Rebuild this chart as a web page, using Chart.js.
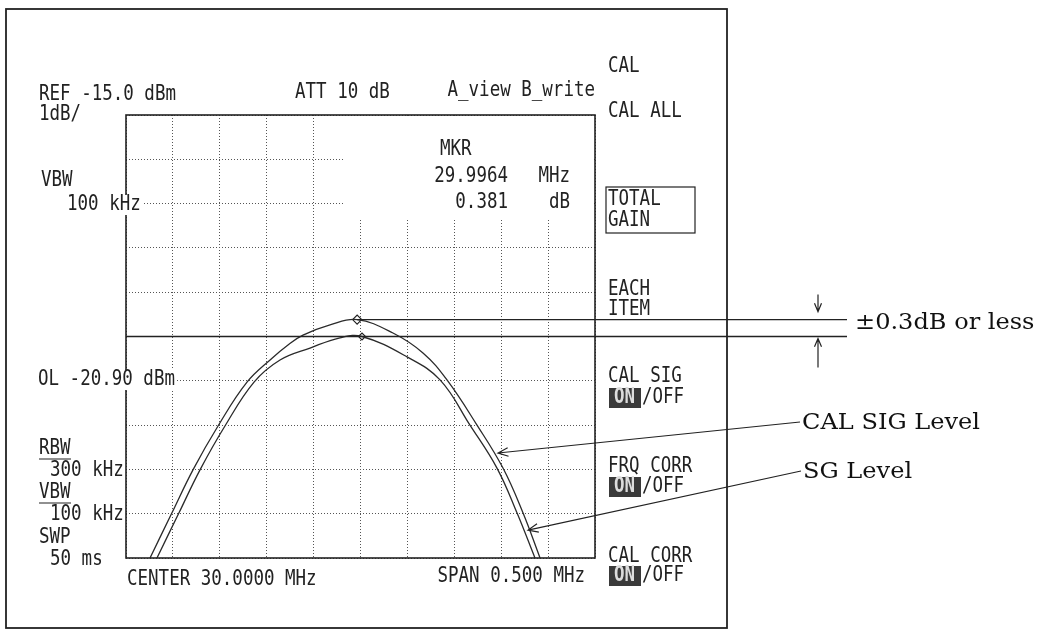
<!DOCTYPE html>
<html>
<head>
<meta charset="utf-8">
<script src="https://cdn.jsdelivr.net/npm/chart.js@4.4.1/dist/chart.umd.min.js"></script>
<style>
  body { margin: 0; background: #fff; }
  canvas { display: block; }
</style>
</head>
<body>
<canvas id="myChart" width="1045" height="631"></canvas>
<script>
// grid: center 30 MHz, span 0.5 MHz, ref -15 dBm, 1 dB/div
const xTicks = [29.75, 29.80, 29.85, 29.90, 29.95, 30.00, 30.05, 30.10, 30.15, 30.20, 30.25];
const yTicks = [-25, -24, -23, -22, -21, -20, -19, -18, -17, -16, -15];

// outer trace (CAL SIG level)
const calSigFreq  = [29.7756, 29.7990, 29.8214, 29.8481, 29.8790, 29.9057, 29.9227, 29.9387, 29.9675, 29.9964, 30.0346, 30.0666, 30.0922, 30.1242, 30.1519, 30.1732, 30.1914];
const calSigLevel = [-25.00, -23.98, -23.01, -22.02, -21.03, -20.49, -20.19, -19.97, -19.74, -19.62, -19.92, -20.37, -20.98, -22.00, -22.97, -23.98, -25.00];

// inner trace (SG level)
const sgFreq  = [29.7830, 29.8065, 29.8289, 29.8555, 29.8865, 29.9142, 29.9462, 29.9781, 30.0016, 30.0496, 30.0848, 30.1167, 30.1455, 30.1668, 30.1860];
const sgLevel = [-25.00, -23.98, -23.01, -22.02, -21.03, -20.53, -20.26, -20.03, -20.00, -20.46, -20.98, -22.00, -22.97, -23.98, -25.00];

const mkrFreq = 29.9964;
const mkrDelta = 0.381;
const refLevel = -20.0;
const refFreq = 30.0016;

// where the label arrows touch the traces
const calSigTip = { x: 30.1466, y: -22.63 };
const sgTip = { x: 30.1786, y: -24.37 };

const INK = '#222';

function pts(xs, ys) {
    return xs.map((x, i) => ({ x: x, y: ys[i] }));
}

function mono(ctx, s, x, y, align, bg) {
    ctx.save();
    ctx.font = '17.5px "DejaVu Sans Mono"';
    ctx.textBaseline = 'middle';
    ctx.textAlign = align || 'left';
    if (bg) {
        let w = ctx.measureText(s).width;
        let left = align === 'right' ? x - w : x;
        ctx.fillStyle = '#fff';
        ctx.fillRect(left - 2, y - 10, w + 4, 20);
    }
    ctx.fillStyle = INK;
    ctx.translate(x, y);
    ctx.scale(1, 1.18);
    ctx.fillText(s, 0, 0);
    ctx.restore();
}

function onOff(ctx, x, y) {
    ctx.save();
    ctx.fillStyle = '#3a3a3a';
    ctx.fillRect(x + 1, y - 10, 32, 20);
    ctx.restore();
    ctx.save();
    ctx.font = 'bold 17.5px "DejaVu Sans Mono"';
    ctx.textBaseline = 'middle';
    ctx.fillStyle = '#ddd';
    ctx.translate(x + 6, y);
    ctx.scale(1, 1.18);
    ctx.fillText('ON', 0, 0);
    ctx.restore();
    mono(ctx, '/OFF', x + 34, y);
}

let serifScale = null;
function serif(ctx, s, x, y) {
    ctx.save();
    ctx.font = '23px "DejaVu Serif"';
    ctx.textBaseline = 'middle';
    ctx.fillStyle = '#111';
    if (serifScale === null) {
        serifScale = 178 / ctx.measureText('CAL SIG Level').width;
    }
    ctx.translate(x, y);
    ctx.scale(serifScale, 1);
    ctx.fillText(s, 0, 0);
    ctx.restore();
}

function arrow(ctx, x1, y1, x2, y2, size) {
    let a = Math.atan2(y2 - y1, x2 - x1);
    let h = size || 10;
    ctx.beginPath();
    ctx.moveTo(x1, y1);
    ctx.lineTo(x2, y2);
    ctx.moveTo(x2 - h * Math.cos(a - 0.4), y2 - h * Math.sin(a - 0.4));
    ctx.lineTo(x2, y2);
    ctx.lineTo(x2 - h * Math.cos(a + 0.4), y2 - h * Math.sin(a + 0.4));
    ctx.stroke();
}

const decor = {
    id: 'decor',
    beforeDatasetsDraw(chart) {
        // marker readout blanks the grid behind it
        const ctx = chart.ctx;
        const a = chart.chartArea;
        ctx.save();
        ctx.fillStyle = '#fff';
        ctx.fillRect(a.left + 218, a.top + 1, a.right - a.left - 220, 104);
        ctx.restore();
    },
    afterDraw(chart) {
        const ctx = chart.ctx;
        const a = chart.chartArea;
        const xs = chart.scales.x, ys = chart.scales.y;

        ctx.save();
        ctx.strokeStyle = INK;
        // outer frame
        ctx.lineWidth = 1.8;
        ctx.strokeRect(6, 9, 721, 619);
        // plot border
        ctx.lineWidth = 1.6;
        ctx.strokeRect(a.left, a.top, a.right - a.left, a.bottom - a.top);

        // level lines
        const lineEnd = 847;
        const yRef = ys.getPixelForValue(refLevel);
        const yMkr = ys.getPixelForValue(refLevel + mkrDelta);
        ctx.lineWidth = 1.4;
        ctx.beginPath();
        ctx.moveTo(a.left, yRef);
        ctx.lineTo(lineEnd, yRef);
        ctx.moveTo(xs.getPixelForValue(mkrFreq), yMkr);
        ctx.lineTo(lineEnd, yMkr);
        ctx.stroke();

        // tolerance arrows
        ctx.lineWidth = 1.2;
        arrow(ctx, 818, yMkr - 25, 818, yMkr - 8, 9);
        arrow(ctx, 818, yRef + 31, 818, yRef + 2, 9);

        // label arrows
        arrow(ctx, 800, 422, xs.getPixelForValue(calSigTip.x), ys.getPixelForValue(calSigTip.y), 11);
        arrow(ctx, 801, 471, xs.getPixelForValue(sgTip.x), ys.getPixelForValue(sgTip.y), 11);
        ctx.restore();

        // instrument text
        mono(ctx, 'REF -15.0 dBm', 39, 95);
        mono(ctx, '1dB/', 39, 115);
        mono(ctx, 'ATT 10 dB', 295, 93);
        mono(ctx, 'A_view B_write', 595, 91, 'right');
        mono(ctx, 'VBW', 41, 181);
        mono(ctx, '100 kHz', 67, 205, 'left', true);
        mono(ctx, 'MKR', 440, 150);
        mono(ctx, mkrFreq.toFixed(4), 508, 177, 'right');
        mono(ctx, 'MHz', 570, 177, 'right');
        mono(ctx, mkrDelta.toFixed(3), 508, 203, 'right');
        mono(ctx, 'dB', 570, 203, 'right');
        mono(ctx, 'OL -20.90 dBm', 38, 380, 'left', true);
        mono(ctx, 'RBW', 39, 449);
        mono(ctx, '300 kHz', 50, 471);
        mono(ctx, 'VBW', 39, 493);
        mono(ctx, '100 kHz', 50, 515);
        mono(ctx, 'SWP', 39, 538);
        mono(ctx, '50 ms', 50, 560);
        mono(ctx, 'CENTER 30.0000 MHz', 127, 580);
        mono(ctx, 'SPAN 0.500 MHz', 585, 577, 'right');

        ctx.save();
        ctx.strokeStyle = INK;
        ctx.lineWidth = 1.2;
        ctx.beginPath();
        ctx.moveTo(39, 459); ctx.lineTo(71, 459);
        ctx.moveTo(39, 503); ctx.lineTo(71, 503);
        ctx.stroke();
        // TOTAL GAIN box
        ctx.strokeRect(606, 187, 89, 46);
        ctx.restore();

        // soft-key menu
        const mx = 608;
        mono(ctx, 'CAL', mx, 67);
        mono(ctx, 'CAL ALL', mx, 112);
        mono(ctx, 'TOTAL', mx, 200);
        mono(ctx, 'GAIN', mx, 221);
        mono(ctx, 'EACH', mx, 290);
        mono(ctx, 'ITEM', mx, 310);
        mono(ctx, 'CAL SIG', mx, 377);
        onOff(ctx, mx, 398);
        mono(ctx, 'FRQ CORR', mx, 467);
        onOff(ctx, mx, 487);
        mono(ctx, 'CAL CORR', mx, 557);
        onOff(ctx, mx, 576);

        // annotations
        serif(ctx, '±0.3dB or less', 855, 323);
        serif(ctx, 'CAL SIG Level', 802, 423);
        serif(ctx, 'SG Level', 803, 472);
    }
};

const ctx = document.getElementById('myChart').getContext('2d');
const myChart = new Chart(ctx, {
    type: 'scatter',
    data: {
        datasets: [{
            label: 'CAL SIG',
            data: pts(calSigFreq, calSigLevel),
            showLine: true,
            borderColor: '#2a2a2a',
            borderWidth: 1.3,
            pointRadius: 0,
            tension: 0.4
        }, {
            label: 'SG',
            data: pts(sgFreq, sgLevel),
            showLine: true,
            borderColor: '#2a2a2a',
            borderWidth: 1.3,
            pointRadius: 0,
            tension: 0.4
        }, {
            label: 'MKR',
            data: [{ x: mkrFreq, y: refLevel + mkrDelta }],
            pointStyle: 'rectRot',
            pointRadius: 4.5,
            borderWidth: 1.2,
            borderColor: INK,
            backgroundColor: '#fff'
        }, {
            label: 'REF MKR',
            data: [{ x: refFreq, y: refLevel }],
            pointStyle: 'rectRot',
            pointRadius: 3.5,
            borderWidth: 1.2,
            borderColor: INK,
            backgroundColor: '#fff'
        }]
    },
    options: {
        responsive: false,
        animation: false,
        devicePixelRatio: 1,
        layout: { padding: { left: 126, top: 115, right: 450, bottom: 73 } },
        plugins: { legend: { display: false }, tooltip: { enabled: false } },
        scales: {
            x: {
                type: 'linear', min: 29.75, max: 30.25,
                afterBuildTicks: s => { s.ticks = xTicks.map(v => ({ value: v })); },
                ticks: { display: false },
                grid: { color: '#555', lineWidth: 1, drawTicks: false },
                border: { display: false, dash: [1, 2] }
            },
            y: {
                type: 'linear', min: -25, max: -15,
                afterBuildTicks: s => { s.ticks = yTicks.map(v => ({ value: v })); },
                ticks: { display: false },
                grid: { color: '#555', lineWidth: 1, drawTicks: false },
                border: { display: false, dash: [1, 2] }
            }
        }
    },
    plugins: [decor]
});
</script>
</body>
</html>
